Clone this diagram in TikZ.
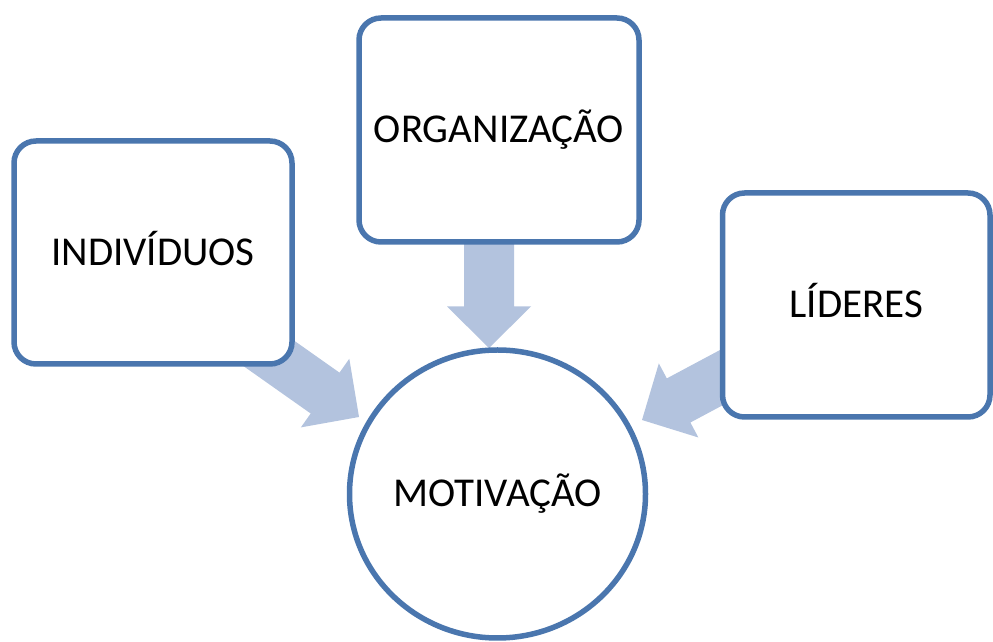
\documentclass[tikz,border=0pt]{standalone}
\usepackage{fontspec}
\setmainfont{Carlito}
\usetikzlibrary{shapes.geometric}
\definecolor{outline}{RGB}{74,118,174}
\definecolor{arrowfill}{RGB}{179,195,222}
\tikzset{
  x=1pt, y=1pt,
  label text/.style={font=\fontsize{41}{48}\selectfont, text height=26pt, text depth=0pt},
  factorbox/.style={draw=outline, line width=5.5pt, fill=white, rectangle,
    rounded corners=22pt, inner sep=0pt, label text},
  centerdisc/.style={draw=outline, line width=5.5pt, fill=white, ellipse,
    inner sep=0pt, label text},
  blockarrow/.pic={
    \fill[arrowfill] (0,0) -- (-41.5,42) -- (-41.5,25) -- (-150,25)
      -- (-150,-25) -- (-41.5,-25) -- (-41.5,-42) -- cycle;
  }
}
\begin{document}
\begin{tikzpicture}
\useasboundingbox (0,0) rectangle (993,642);

% tips of the three block arrows, just outside the central ellipse
\coordinate (tipindiv) at (359,225);
\coordinate (tiporg)   at (489,294);
\coordinate (tiplider) at (642,222);

% block arrows pointing at the centre
\pic[rotate=-35.2]  at (tipindiv) {blockarrow};
\pic[rotate=-90]    at (tiporg)   {blockarrow};
\pic[rotate=-151.9] at (tiplider) {blockarrow};

% the three factors
\node[factorbox, minimum width=278pt, minimum height=223pt] (indiv) at (153,389.5) {INDIVÍDUOS};
\node[factorbox, minimum width=280pt, minimum height=224pt] (org) at (499,512) {ORGANIZAÇÃO};
\node[factorbox, minimum width=267.5pt, minimum height=224pt] (lider) at (856.25,337) {LÍDERES};

% centre
\node[centerdisc, minimum width=296pt, minimum height=288pt] (motiv) at (497.5,148) {MOTIVAÇÃO};
\end{tikzpicture}
\end{document}
